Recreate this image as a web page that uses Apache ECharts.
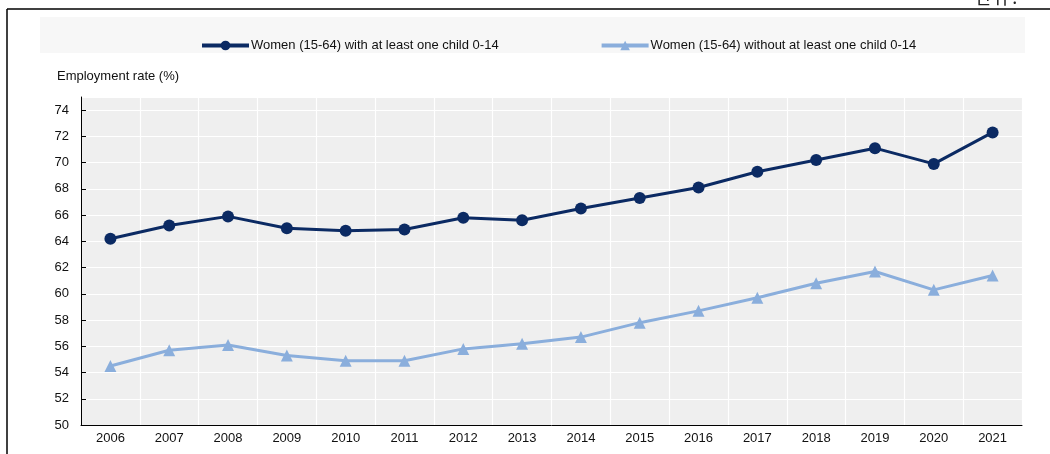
<!DOCTYPE html>
<html>
<head>
<meta charset="utf-8">
<script src="https://cdn.jsdelivr.net/npm/echarts@6/dist/echarts.min.js"></script>
<style>
  html, body { margin: 0; padding: 0; background: #fff; }
  #chart { width: 1050px; height: 454px; }
</style>
</head>
<body>
<div id="chart"></div>
<script>
// 年份
const years = ["2006", "2007", "2008", "2009", "2010", "2011", "2012", "2013",
  "2014", "2015", "2016", "2017", "2018", "2019", "2020", "2021"];
// 有 0-14 岁子女的女性就业率
const withChild = [64.2, 65.2, 65.9, 65.0, 64.8, 64.9, 65.8, 65.6,
  66.5, 67.3, 68.1, 69.3, 70.2, 71.1, 69.9, 72.3];
// 没有 0-14 岁子女的女性就业率
const withoutChild = [54.5, 55.7, 56.1, 55.3, 54.9, 54.9, 55.8, 56.2,
  56.7, 57.8, 58.7, 59.7, 60.8, 61.7, 60.3, 61.4];
const seriesNames = ["Women (15-64) with at least one child 0-14",
  "Women (15-64) without at least one child 0-14"];

const font = "'Liberation Sans', Arial, sans-serif";
const chart = echarts.init(document.getElementById("chart"), null, { renderer: "canvas" });

const option = {
  animation: false,
  textStyle: { fontFamily: font },
  graphic: [
    // 外框
    { type: "line", shape: { x1: 7, y1: 9, x2: 1050, y2: 9 }, style: { stroke: "#000", lineWidth: 1.5 } },
    { type: "line", shape: { x1: 7, y1: 9, x2: 7, y2: 454 }, style: { stroke: "#000", lineWidth: 1.5 } },
    // 图例背景
    { type: "rect", z: -10, shape: { x: 40, y: 17, width: 985, height: 36 }, style: { fill: "#f7f7f7" } },
    { type: "text", left: 975, top: -12, style: { text: "단위 :", font: "18px 'Noto Sans CJK KR'", fill: "#222" } },
    { type: "text", left: 57, top: 70, style: { text: "Employment rate (%)", font: "13px " + font, fill: "#111" } }
  ],
  legend: {
    top: 34,
    left: 195,
    itemGap: 101,
    itemWidth: 47,
    itemHeight: 12,
    lineStyle: { width: 4 },
    textStyle: { fontSize: 13, color: "#111", fontFamily: font, padding: [0, 0, 0, -3] },
    data: seriesNames
  },
  grid: { left: 81, right: 28, top: 97, bottom: 29, backgroundColor: "#efefef", show: true, borderWidth: 0 },
  xAxis: {
    type: "category",
    data: years,
    boundaryGap: true,
    axisLine: { lineStyle: { color: "#000", width: 1 } },
    axisTick: { inside: true, length: 5, lineStyle: { color: "#000" } },
    axisLabel: { color: "#111", fontSize: 13, margin: 7, fontFamily: font },
    splitLine: { show: true, lineStyle: { color: "#fff", width: 1.2 } }
  },
  yAxis: {
    type: "value",
    min: 50,
    max: 75,
    interval: 2,
    axisLine: { show: true, lineStyle: { color: "#000", width: 1 } },
    axisTick: { show: true, inside: true, length: 5, lineStyle: { color: "#000" } },
    axisLabel: { color: "#111", fontSize: 13, margin: 12, showMaxLabel: false, fontFamily: font },
    splitLine: { show: true, lineStyle: { color: "#fff", width: 1.2 } }
  },
  series: [
    {
      name: seriesNames[0],
      type: "line",
      data: withChild,
      symbol: "circle",
      symbolSize: 12,
      color: "#0b2a63",
      lineStyle: { width: 3, color: "#0b2a63" },
      itemStyle: { color: "#0b2a63" }
    },
    {
      name: seriesNames[1],
      type: "line",
      data: withoutChild,
      symbol: "triangle",
      symbolSize: 12,
      color: "#8aaedc",
      lineStyle: { width: 3, color: "#8aaedc" },
      itemStyle: { color: "#8aaedc" }
    }
  ]
};
chart.setOption(option);
</script>
</body>
</html>
